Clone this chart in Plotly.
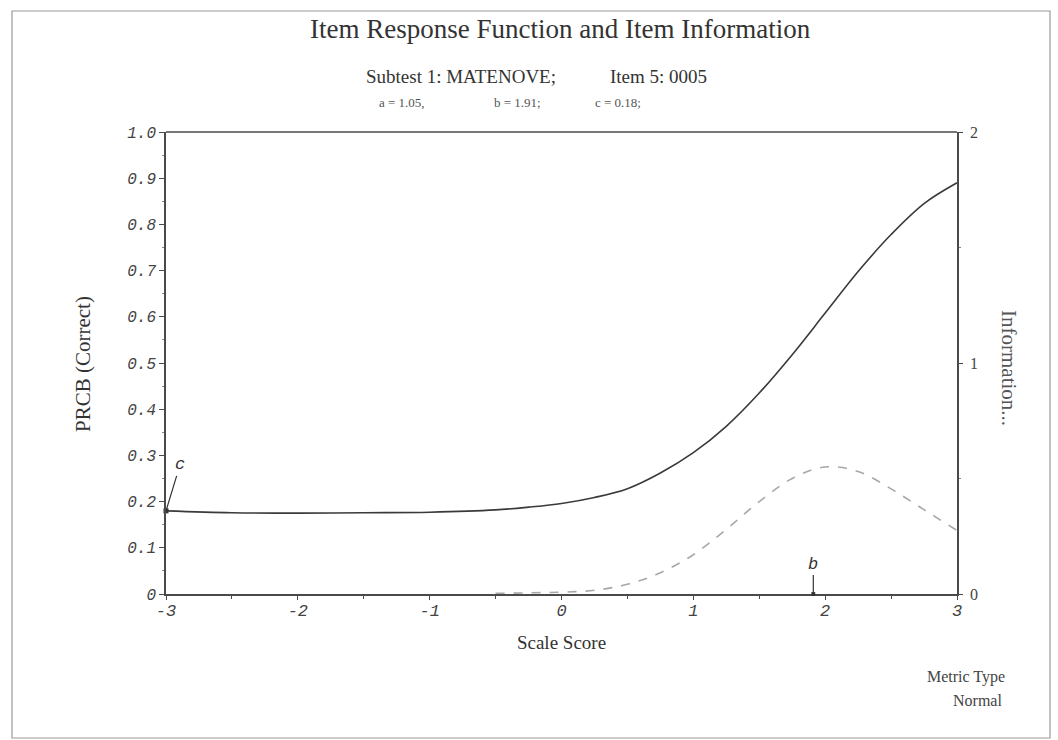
import plotly.graph_objects as go

# ---- data ----
theta_irf = [-3.0, -2.5, -2.0, -1.5, -1.0, -0.5, -0.25, 0.0, 0.25, 0.5, 0.75, 1.0,
             1.25, 1.5, 1.75, 2.0, 2.25, 2.5, 2.75, 3.0]
prob_irf = [0.180, 0.176, 0.175, 0.176, 0.177, 0.182, 0.188, 0.196, 0.209, 0.228, 0.262,
            0.306, 0.363, 0.435, 0.518, 0.608, 0.698, 0.778, 0.845, 0.890]

theta_info = [-0.5, -0.25, 0.0, 0.25, 0.5, 0.75, 1.0, 1.25, 1.5, 1.75, 2.0, 2.25,
              2.5, 2.75, 3.0]
info_vals = [0.003, 0.005, 0.008, 0.016, 0.042, 0.092, 0.170, 0.280, 0.400, 0.500,
             0.550, 0.530, 0.455, 0.365, 0.275]

a_param, b_param, c_param = 1.05, 1.91, 0.18

y_tickvals = [0, 0.1, 0.2, 0.3, 0.4, 0.5, 0.6, 0.7, 0.8, 0.9, 1.0]
y_ticktext = ["0", "0.1", "0.2", "0.3", "0.4", "0.5", "0.6", "0.7", "0.8", "0.9", "1.0"]
x_tickvals = [-3, -2, -1, 0, 1, 2, 3]
x_ticktext = ["-3", "-2", "-1", "0", "1", "2", "3"]
y2_tickvals = [0, 1, 2]
y2_ticktext = ["0", "1", "2"]

SERIF = "Liberation Serif"
MONO = "Liberation Mono"
AX = "#4a4a4a"

L, R, T, B = 166, 957, 132, 594
PW, PH = R - L, B - T


def px(x):
    return (x - L) / PW


def py(y):
    return (B - y) / PH


fig = go.Figure()
fig.add_trace(go.Scatter(x=theta_irf, y=prob_irf, mode="lines", line_shape="spline",
                         line=dict(color="#3a3a3a", width=1.6), showlegend=False))
fig.add_trace(go.Scatter(x=theta_info, y=info_vals, mode="lines", line_shape="spline",
                         line=dict(color="#a8a8a8", width=1.6, dash="dash"),
                         yaxis="y2", showlegend=False))
# c marker at lower asymptote
fig.add_trace(go.Scatter(x=[-3], y=[c_param], mode="markers",
                         marker=dict(symbol="square", size=5, color="#333"),
                         showlegend=False, cliponaxis=False))

fig.update_layout(
    width=1058, height=740,
    margin=dict(l=L, r=1058 - R, t=T, b=740 - B),
    paper_bgcolor="white", plot_bgcolor="white",
    xaxis=dict(range=[-3, 3], tickvals=x_tickvals, ticktext=x_ticktext,
               showgrid=False, zeroline=False, showline=True, linecolor=AX, linewidth=1.5,
               ticks="outside", ticklen=4, tickcolor=AX, ticklabelstandoff=-4,
               minor=dict(dtick=0.5, ticks="outside", ticklen=3, tickcolor=AX),
               tickfont=dict(family=MONO, size=17, color="#444", style="italic"),
               title=dict(text="Scale Score", font=dict(family=SERIF, size=19, color="#333"),
                          standoff=16)),
    yaxis=dict(range=[0, 1], tickvals=y_tickvals, ticktext=y_ticktext,
               showgrid=False, zeroline=False, showline=True, linecolor=AX, linewidth=1.5,
               ticks="outside", ticklen=5, tickcolor=AX,
               minor=dict(dtick=0.05, ticks="outside", ticklen=2, tickcolor="#888"),
               tickfont=dict(family=MONO, size=16, color="#444", style="italic")),
    yaxis2=dict(range=[0, 2], overlaying="y", side="right", tickvals=y2_tickvals,
                ticktext=y2_ticktext, showgrid=False, zeroline=False, showline=True,
                linecolor=AX, linewidth=1.5, ticks="outside", ticklen=4, tickcolor=AX,
                ticklabelstandoff=4,
                minor=dict(dtick=0.5, ticks="outside", ticklen=2, tickcolor="#888"),
                tickfont=dict(family=SERIF, size=16, color="#444")),
)

# top border line of the plot frame
fig.add_shape(type="line", xref="paper", yref="paper", x0=0, x1=1, y0=1, y1=1,
              line=dict(color=AX, width=1.5))
# page border of the scanned sheet
fig.add_shape(type="rect", xref="paper", yref="paper",
              x0=px(12), x1=px(1050), y0=py(738), y1=py(11),
              line=dict(color="#9a9a9a", width=1.2))


def text(t, x, y, size, color="#333", family=SERIF, xanchor="center", angle=0):
    fig.add_annotation(text=t, xref="paper", yref="paper", x=px(x), y=py(y),
                       showarrow=False, textangle=angle, xanchor=xanchor, yanchor="middle",
                       font=dict(family=family, size=size, color=color))


text("Item Response Function and Item Information", 560, 29, 27)
text("Subtest 1: MATENOVE;", 461, 76, 19)
text("Item 5: 0005", 658, 76, 19)
text(f"a = {a_param:.2f},", 402, 103, 13, color="#555")
text(f"b = {b_param:.2f};", 517, 103, 13, color="#555")
text(f"c = {c_param:.2f};", 618, 103, 13, color="#555")
text("PRCB (Correct)", 83, 364, 21, angle=-90)
text("Information...", 1009, 368, 21, color="#555", angle=90)
text("Metric Type", 1007, 677, 16, color="#444", xanchor="right")
text("Normal", 1004, 700, 16, color="#444", xanchor="right")

# c and b markers
fig.add_annotation(text="c", x=-3, y=c_param, xref="x", yref="y", showarrow=True,
                   arrowhead=0, arrowwidth=1.2, arrowcolor="#333", ax=14, ay=-46,
                   font=dict(family=MONO, size=17, color="#333", style="italic"))
fig.add_annotation(text="b", x=b_param, y=0, xref="x", yref="y", showarrow=True,
                   arrowhead=7, arrowsize=0.8, arrowwidth=1.2, arrowcolor="#333",
                   ax=0, ay=-30,
                   font=dict(family=MONO, size=17, color="#333", style="italic"))

fig.write_html("out.html")
